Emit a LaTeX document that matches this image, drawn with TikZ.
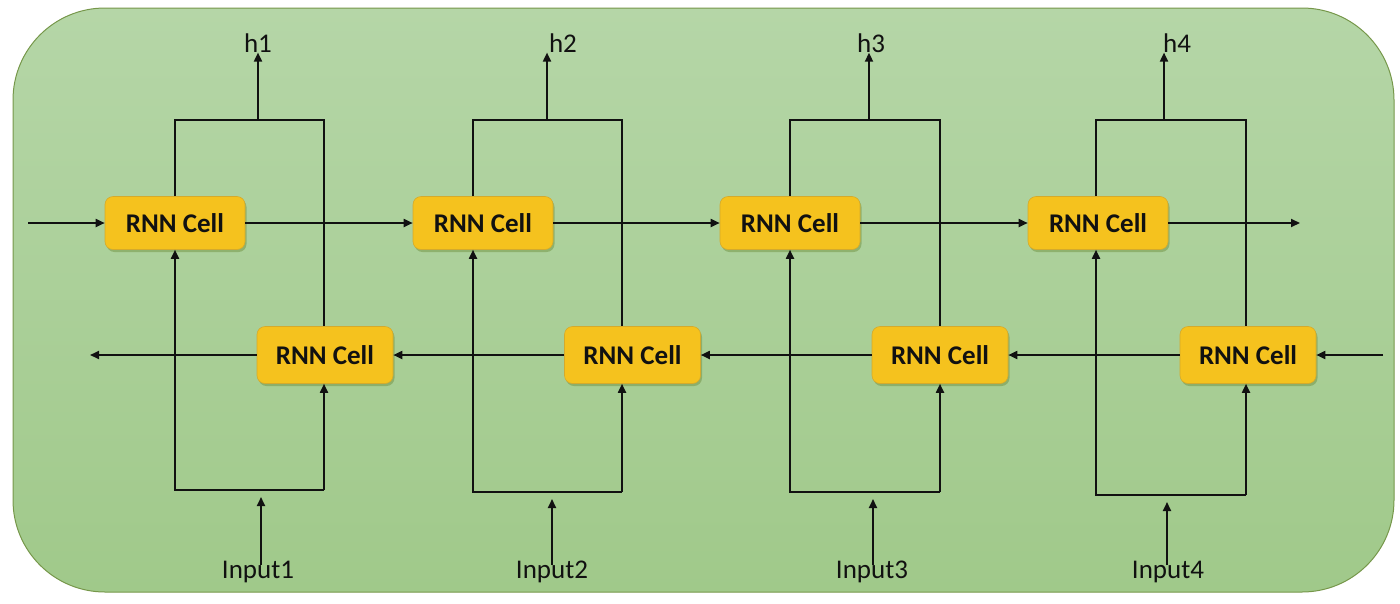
\documentclass[tikz,border=0pt]{standalone}
\usepackage{fontspec}
\setmainfont{Carlito}
\usetikzlibrary{arrows.meta,shadows}
\definecolor{bgtop}{HTML}{B5D6A7}
\definecolor{bgbot}{HTML}{A0C98A}
\definecolor{bgline}{HTML}{76974A}
\definecolor{cellfill}{HTML}{F5C21E}
\definecolor{cellline}{HTML}{D4AA2C}
\definecolor{ink}{HTML}{111111}
\begin{document}
\begin{tikzpicture}[x=1pt,y=-1pt,
  cell/.style={draw=cellline, line width=0.6pt, fill=cellfill, rounded corners=8pt,
    minimum width=140pt, minimum height=53pt, inner sep=0pt,
    font=\fontsize{27}{30}\selectfont\bfseries, text=ink,
    drop shadow={shadow xshift=1.5pt, shadow yshift=-2.5pt, fill=bgline, opacity=0.55}},
  lcell/.style={cell, minimum width=136pt, minimum height=57pt},
  lab/.style={font=\fontsize{27}{30}\selectfont, text=ink, inner sep=0pt},
  conn/.style={line width=1.8pt, draw=ink},
  arr/.style={conn, -{Triangle[length=9pt,width=8pt]}},
]
\useasboundingbox (0,0) rectangle (1400,603);
\path[draw=bgline, line width=1pt, top color=bgtop, bottom color=bgbot, rounded corners=92pt]
  (13,8) rectangle (1394,592);

% cells
\node[cell]  (t1) at (175,223) {RNN Cell};
\node[cell]  (t2) at (483,223) {RNN Cell};
\node[cell]  (t3) at (790,223) {RNN Cell};
\node[cell]  (t4) at (1098,223) {RNN Cell};
\node[lcell] (b1) at (325,355) {RNN Cell};
\node[lcell] (b2) at (632.5,355) {RNN Cell};
\node[lcell] (b3) at (940,355) {RNN Cell};
\node[lcell] (b4) at (1248,355) {RNN Cell};

% forward row
\coordinate (tin) at (28,223);
\coordinate (tout) at (1300,223);
\draw[arr] (tin) -- (t1.west);
\draw[arr] (t1.east) -- (t2.west);
\draw[arr] (t2.east) -- (t3.west);
\draw[arr] (t3.east) -- (t4.west);
\draw[arr] (t4.east) -- (tout);

% backward row
\coordinate (bin) at (1383,355);
\coordinate (bout) at (90,355);
\draw[arr] (bin) -- (b4.east);
\draw[arr] (b4.west) -- (b3.east);
\draw[arr] (b3.west) -- (b2.east);
\draw[arr] (b2.west) -- (b1.east);
\draw[arr] (b1.west) -- (bout);

% per time step: feedback frame, output and input
\foreach \i/\xl/\xr/\hx/\hl/\ix/\il/\yb in
  {1/175/324/258/258/261/258/490,
   2/473/622/547/563/552/552/492,
   3/790/940/869/871/873/872/492,
   4/1096/1246/1164/1177/1167/1168/495}{
  \coordinate (tl\i) at (\xl,120);
  \coordinate (tr\i) at (\xr,120);
  \coordinate (bl\i) at (\xl,\yb);
  \coordinate (br\i) at (\xr,\yb);
  \coordinate (hb\i) at (\hx,120);
  \coordinate (it\i) at (\ix,565);
  \coordinate (ih\i) at (\ix,\yb+7);
  \node[lab] (h\i) at (\hl,43) {h\i};
  \node[lab, anchor=base] (in\i) at (\il,578) {Input\i};
  \draw[conn] (t\i.north -| tl\i) -- (tl\i) -- (tr\i) -- (b\i.north -| tr\i);
  \draw[arr] (br\i) -- (bl\i) -- (t\i.south -| bl\i);
  \draw[arr] (br\i) -- (b\i.south -| br\i);
  \draw[arr] (hb\i) -- (hb\i |- h\i.south);
  \draw[arr] (it\i) -- (ih\i);
}
\end{tikzpicture}
\end{document}
